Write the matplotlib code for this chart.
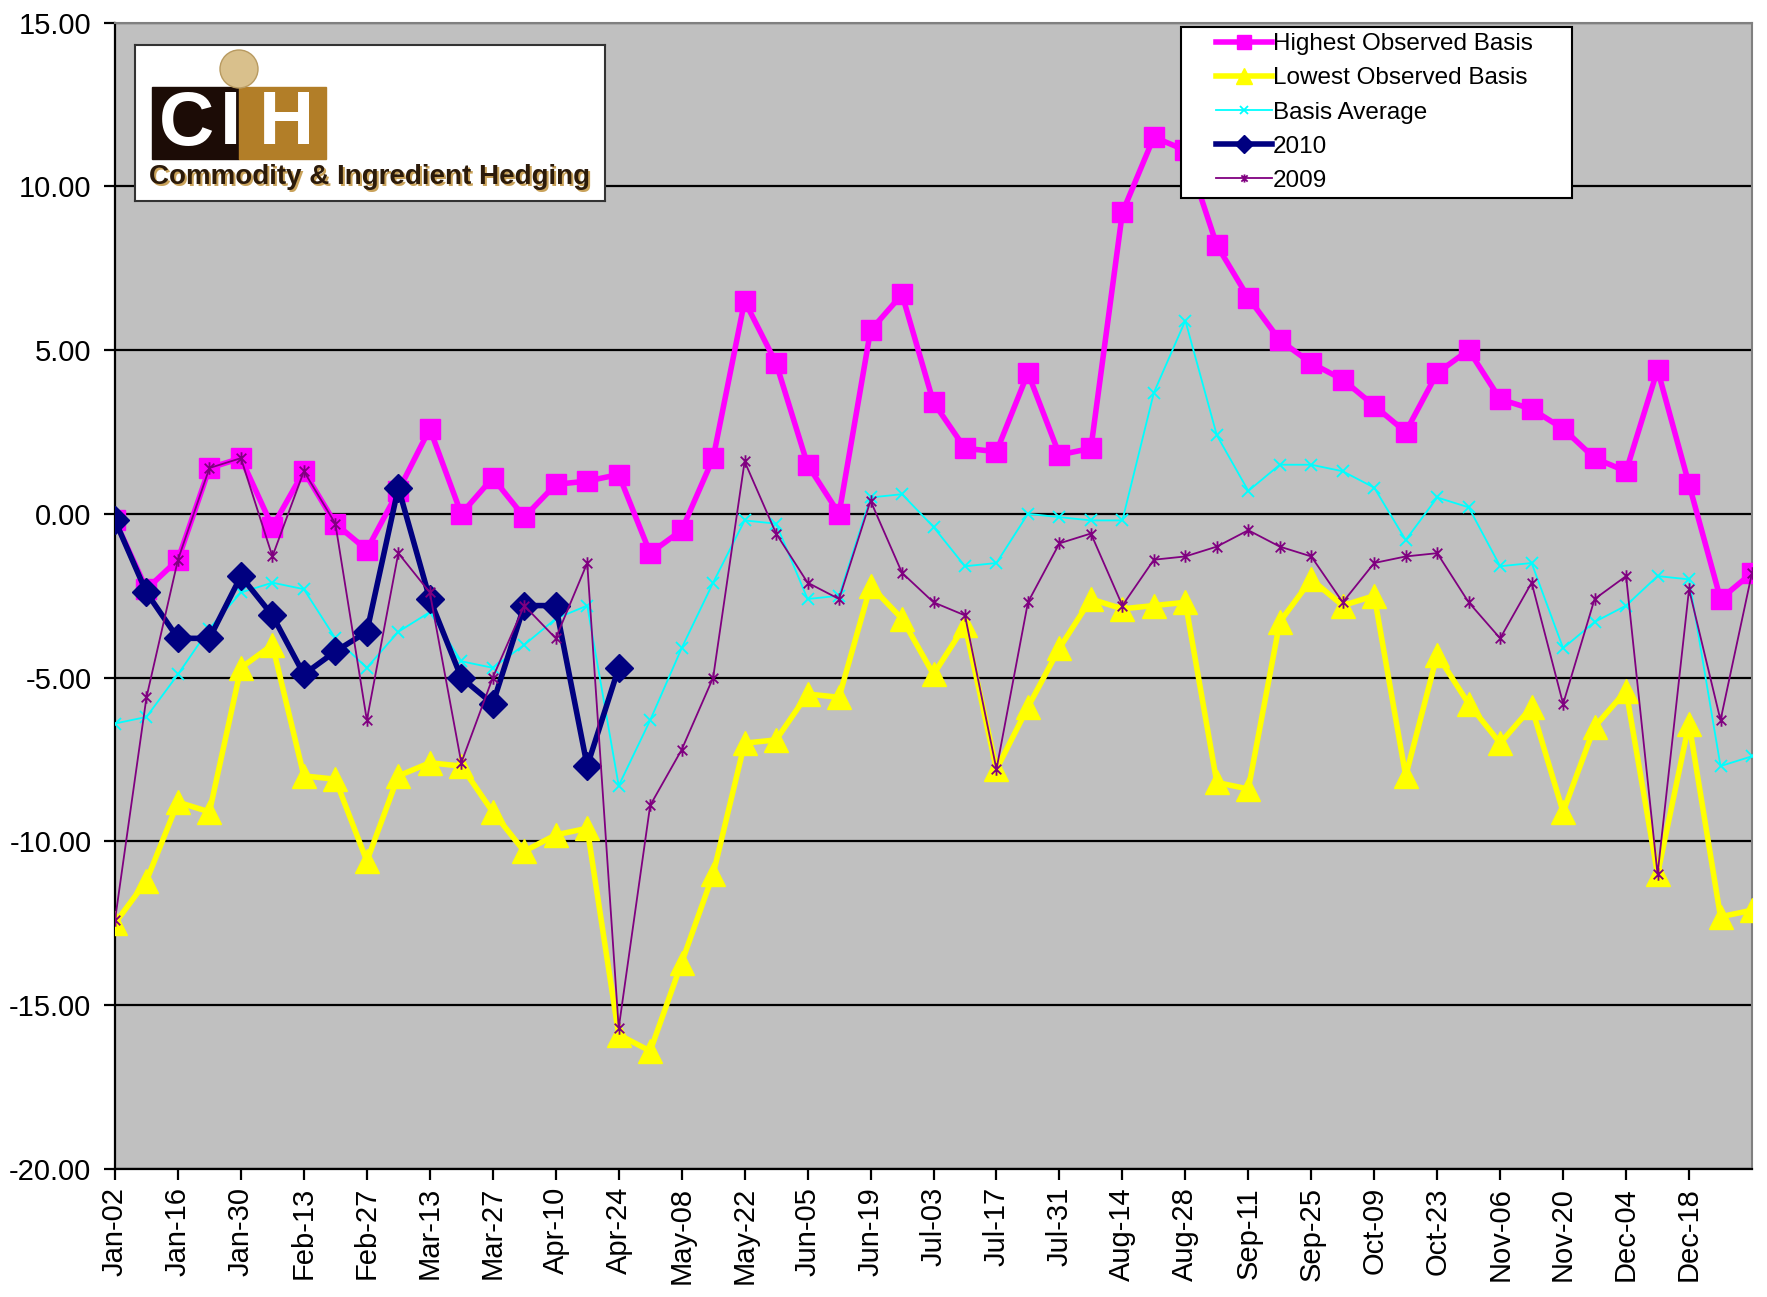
import numpy as np
import matplotlib
matplotlib.use("Agg")
import matplotlib.pyplot as plt
from matplotlib.path import Path
from matplotlib.patches import Rectangle, Circle
from matplotlib.legend_handler import HandlerLine2D

plt.rcParams['font.family'] = ['Liberation Sans', 'DejaVu Sans']

# weekly basis values, Jan-02 .. Dec-25 (53 weeks)
highest = [-0.2, -2.3, -1.4, 1.4, 1.7, -0.4, 1.3, -0.3, -1.1, 0.7, 2.6, 0.0, 1.1, -0.1, 0.9, 1.0,
           1.2, -1.2, -0.5, 1.7, 6.5, 4.6, 1.5, 0.0, 5.6, 6.7, 3.4, 2.0, 1.9, 4.3, 1.8, 2.0,
           9.2, 11.5, 11.1, 8.2, 6.6, 5.3, 4.6, 4.1, 3.3, 2.5, 4.3, 5.0, 3.5, 3.2, 2.6, 1.7,
           1.3, 4.4, 0.9, -2.6, -1.8]
lowest = [-12.5, -11.2, -8.8, -9.1, -4.7, -4.0, -8.0, -8.1, -10.6, -8.0, -7.6, -7.7, -9.1, -10.3,
          -9.8, -9.6, -15.9, -16.4, -13.7, -11.0, -7.0, -6.9, -5.5, -5.6, -2.2, -3.2, -4.9, -3.4,
          -7.8, -5.9, -4.1, -2.6, -2.9, -2.8, -2.7, -8.2, -8.4, -3.3, -2.0, -2.8, -2.5, -8.0,
          -4.3, -5.8, -7.0, -5.9, -9.1, -6.5, -5.4, -11.0, -6.4, -12.3, -12.1]
average = [-6.4, -6.2, -4.9, -3.5, -2.4, -2.1, -2.3, -3.8, -4.7, -3.6, -3.0, -4.5, -4.7, -4.0,
           -3.2, -2.8, -8.3, -6.3, -4.1, -2.1, -0.2, -0.3, -2.6, -2.5, 0.5, 0.6, -0.4, -1.6,
           -1.5, 0.0, -0.1, -0.2, -0.2, 3.7, 5.9, 2.4, 0.7, 1.5, 1.5, 1.3, 0.8, -0.8, 0.5, 0.2,
           -1.6, -1.5, -4.1, -3.3, -2.8, -1.9, -2.0, -7.7, -7.4]
y2010 = [-0.2, -2.4, -3.8, -3.8, -1.9, -3.1, -4.9, -4.2, -3.6, 0.8, -2.6, -5.0, -5.8, -2.8,
         -2.8, -7.7, -4.7] + [np.nan] * 36
y2009 = [-12.4, -5.6, -1.4, 1.4, 1.7, -1.3, 1.3, -0.3, -6.3, -1.2, -2.4, -7.6, -5.0, -2.8, -3.8,
         -1.5, -15.7, -8.9, -7.2, -5.0, 1.6, -0.6, -2.1, -2.6, 0.4, -1.8, -2.7, -3.1, -7.8, -2.7,
         -0.9, -0.6, -2.8, -1.4, -1.3, -1.0, -0.5, -1.0, -1.3, -2.7, -1.5, -1.3, -1.2, -2.7,
         -3.8, -2.1, -5.8, -2.6, -1.9, -11.0, -2.3, -6.3, -1.8]

tick_labels = ['Jan-02', 'Jan-16', 'Jan-30', 'Feb-13', 'Feb-27', 'Mar-13', 'Mar-27', 'Apr-10',
               'Apr-24', 'May-08', 'May-22', 'Jun-05', 'Jun-19', 'Jul-03', 'Jul-17', 'Jul-31',
               'Aug-14', 'Aug-28', 'Sep-11', 'Sep-25', 'Oct-09', 'Oct-23', 'Nov-06', 'Nov-20',
               'Dec-04', 'Dec-18']

x = np.arange(len(highest))

# excel style asterisk: x plus a vertical bar
star = Path([(-1, -1), (1, 1), (-1, 1), (1, -1), (0, -1.3), (0, 1.3)],
            [Path.MOVETO, Path.LINETO, Path.MOVETO, Path.LINETO, Path.MOVETO, Path.LINETO])

W, H = 1767, 1297
fig = plt.figure(figsize=(W / 100, H / 100), dpi=100)
fig.patch.set_facecolor('white')
ax = fig.add_axes([115 / W, 1 - 1169 / H, 1637 / W, 1146.5 / H])
ax.set_facecolor('#C0C0C0')

ax.plot(x, highest, color='#FF00FF', lw=4, marker='s', ms=15, label='Highest Observed Basis', zorder=3)
ax.plot(x, lowest, color='#FFFF00', lw=4, marker='^', ms=17, label='Lowest Observed Basis', zorder=4)
ax.plot(x, average, color='#00FFFF', lw=1.3, marker='x', ms=8, mew=1.3, label='Basis Average', zorder=5)
ax.plot(x, y2010, color='#000080', lw=4, marker='D', ms=14, label='2010', zorder=6)
ax.plot(x, y2009, color='#800080', lw=1.3, marker=star, ms=9, mew=1.3, label='2009', zorder=7)

ax.set_xlim(0, 52)
ax.set_ylim(-20, 15)
ax.set_yticks(np.arange(-20, 16, 5))
ax.set_yticklabels(['%.2f' % v for v in np.arange(-20, 16, 5)])
ax.set_xticks(np.arange(0, 52, 2))
ax.set_xticklabels(tick_labels, rotation=90)

ax.yaxis.grid(True, color='black', lw=1.6)
ax.set_axisbelow(True)
for side in ['left', 'bottom']:
    ax.spines[side].set_color('black')
    ax.spines[side].set_linewidth(1.6)
for side in ['top', 'right']:
    ax.spines[side].set_color('#808080')
    ax.spines[side].set_linewidth(1.5)
ax.tick_params(axis='both', direction='out', length=8, width=1.6, labelsize=21)
ax.tick_params(axis='y', pad=9)
ax.tick_params(axis='x', pad=5)

leg = ax.legend(loc='upper left', bbox_to_anchor=(0.651, 0.8495, 0.239, 0.1465), mode='expand',
                borderaxespad=0, fontsize=17.5, markerscale=0.65, handlelength=3.5,
                handletextpad=0.05, labelspacing=0.5, borderpad=0.25, fancybox=False,
                framealpha=1, handler_map={plt.Line2D: HandlerLine2D(xpad=1.2)})
leg.get_frame().set_edgecolor('black')
leg.get_frame().set_linewidth(1.5)

# company logo box
lax = fig.add_axes([135 / W, 1 - 201 / H, 470 / W, 156 / H])
lax.set_xlim(0, 470)
lax.set_ylim(156, 0)
lax.set_xticks([])
lax.set_yticks([])
for s in lax.spines.values():
    s.set_color('#333333')
    s.set_linewidth(1.5)
lax.add_patch(Rectangle((17, 42), 87, 72, color='#1C0C06'))
lax.add_patch(Rectangle((104, 42), 87, 72, color='#B27E28'))
lax.add_patch(Circle((104, 24), 19, color='#D9C08C', ec='#B89A60', lw=1))
lax.text(51, 80, 'C', color='white', fontsize=55, fontweight='heavy', ha='center', va='center')
lax.text(95, 80, 'I', color='white', fontsize=55, fontweight='heavy', ha='center', va='center')
lax.text(151, 80, 'H', color='white', fontsize=55, fontweight='heavy', ha='center', va='center')
lax.text(15.5, 133.5, 'Commodity & Ingredient Hedging', color='#C9A25A', fontsize=20,
         fontweight='bold', ha='left', va='center')
lax.text(14, 132, 'Commodity & Ingredient Hedging', color='#2B1A0A', fontsize=20,
         fontweight='bold', ha='left', va='center')

fig.savefig('out.png', dpi=100)
